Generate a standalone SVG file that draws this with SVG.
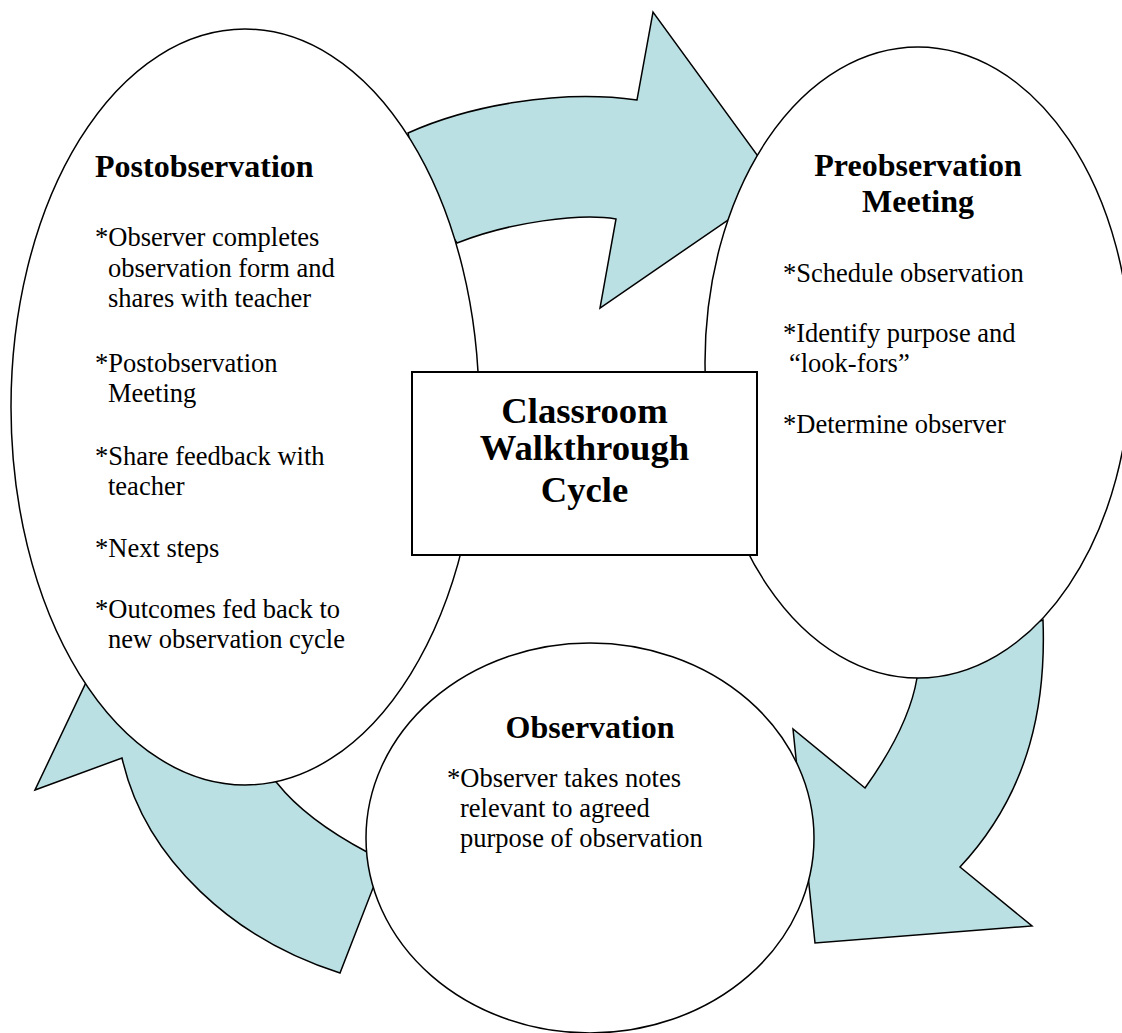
<svg xmlns="http://www.w3.org/2000/svg" width="1122" height="1033" viewBox="0 0 1122 1033">
  <style>
    .arrow { fill: #bae0e3; stroke: #000; stroke-width: 1.5; stroke-linejoin: miter; }
    .stage { fill: #fff; stroke: #000; stroke-width: 1.5; }
    .hub { fill: #fff; stroke: #000; stroke-width: 2; }
    text { font-family: "Liberation Serif", "Times New Roman", serif; fill: #000; }
    .title { font-size: 32px; font-weight: bold; }
    .hubtitle { font-size: 36.7px; font-weight: bold; text-anchor: middle; }
    .body { font-size: 26.5px; }
    .mid { text-anchor: middle; }
  </style>

  <!-- curved cycle arrows, drawn underneath the stage ellipses -->
  <g id="connectors">
    <!-- Postobservation -> Preobservation Meeting -->
    <path class="arrow" d="M420,190 L408,133 C468,106 558,89 637,100 L653,12 L779,185 L600,308 L616,219 C580,213 510,222 457,243 Z"/>
    <!-- Preobservation Meeting -> Observation -->
    <path class="arrow" d="M980,640 L1043,620 C1046,700 1032,790 960,867 L1032,926 L815,943 L793,729 L865,788 C885,760 910,720 917,678 Z"/>
    <!-- Observation -> Postobservation -->
    <path class="arrow" d="M35,790 L122,758 C145,860 235,940 340,973 L373,888 L392,860 L367,852 C335,835 300,812 277,783 L200,700 L110,632 Z"/>
  </g>

  <g id="postobservation">
    <ellipse class="stage" cx="245" cy="407" rx="234" ry="378"/>
    <text class="title" x="95" y="177">Postobservation</text>
    <text class="body" x="95" y="246">*Observer completes</text>
    <text class="body" x="108" y="277">observation form and</text>
    <text class="body" x="108" y="307">shares with teacher</text>
    <text class="body" x="95" y="372">*Postobservation</text>
    <text class="body" x="108" y="402">Meeting</text>
    <text class="body" x="95" y="465">*Share feedback with</text>
    <text class="body" x="108" y="495">teacher</text>
    <text class="body" x="95" y="557">*Next steps</text>
    <text class="body" x="95" y="618">*Outcomes fed back to</text>
    <text class="body" x="108" y="648">new observation cycle</text>
  </g>

  <g id="preobservation">
    <ellipse class="stage" cx="918" cy="362.5" rx="213" ry="315.5"/>
    <text class="title mid" x="918" y="176">Preobservation</text>
    <text class="title mid" x="918" y="212">Meeting</text>
    <text class="body" x="783" y="282">*Schedule observation</text>
    <text class="body" x="783" y="342">*Identify purpose and</text>
    <text class="body" x="789" y="372">“look-fors”</text>
    <text class="body" x="783" y="433">*Determine observer</text>
  </g>

  <g id="observation">
    <ellipse class="stage" cx="590" cy="838" rx="224" ry="195"/>
    <text class="title mid" x="590" y="738">Observation</text>
    <text class="body" x="447" y="787">*Observer takes notes</text>
    <text class="body" x="460" y="817">relevant to agreed</text>
    <text class="body" x="460" y="847">purpose of observation</text>
  </g>

  <g id="cycle-hub">
    <rect class="hub" x="412" y="372" width="345" height="183"/>
    <text class="hubtitle" x="584.5" y="423">Classroom</text>
    <text class="hubtitle" x="584.5" y="460">Walkthrough</text>
    <text class="hubtitle" x="584.5" y="502">Cycle</text>
  </g>
</svg>
